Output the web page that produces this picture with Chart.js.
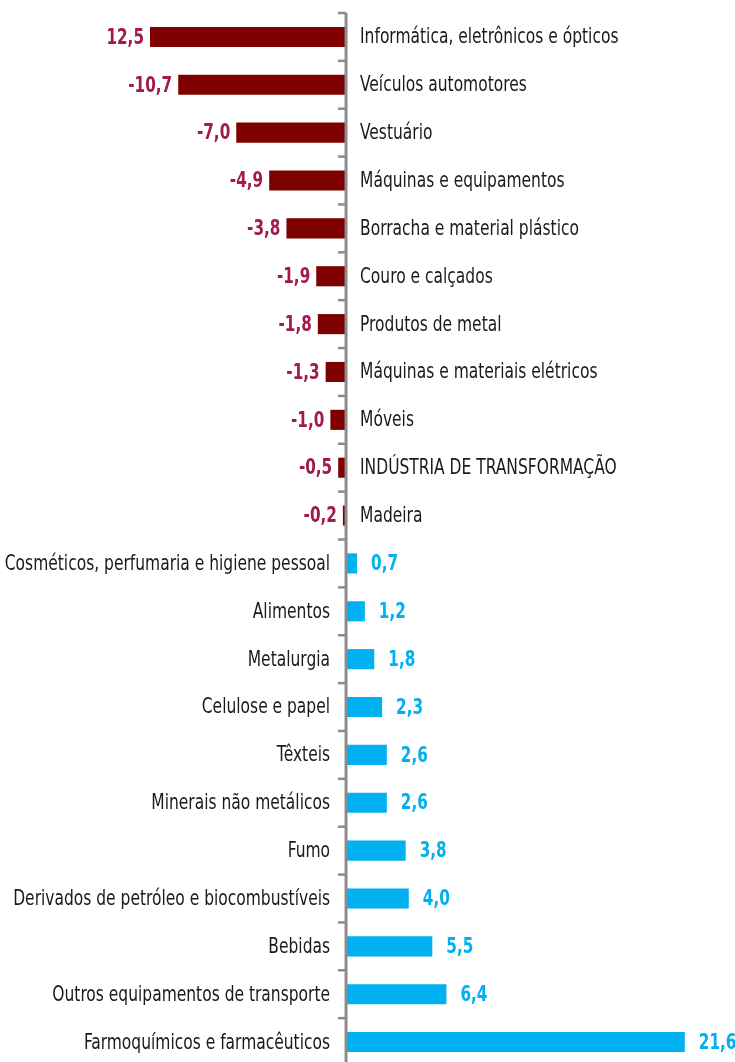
<!DOCTYPE html>
<html>
<head>
<meta charset="utf-8">
<script src="https://cdn.jsdelivr.net/npm/chart.js@4"></script>
<style>
  html, body { margin: 0; padding: 0; background: #fff; overflow: hidden; }
  #wrap { position: relative; width: 735px; height: 1066px; }
</style>
</head>
<body>
<div id="wrap"><canvas id="myChart"></canvas></div>
<script>
const categories = [
  'Informática, eletrônicos e ópticos',
  'Veículos automotores',
  'Vestuário',
  'Máquinas e equipamentos',
  'Borracha e material plástico',
  'Couro e calçados',
  'Produtos de metal',
  'Máquinas e materiais elétricos',
  'Móveis',
  'INDÚSTRIA DE TRANSFORMAÇÃO',
  'Madeira',
  'Cosméticos, perfumaria e higiene pessoal',
  'Alimentos',
  'Metalurgia',
  'Celulose e papel',
  'Têxteis',
  'Minerais não metálicos',
  'Fumo',
  'Derivados de petróleo e biocombustíveis',
  'Bebidas',
  'Outros equipamentos de transporte',
  'Farmoquímicos e farmacêuticos'
];
const values = [-12.5, -10.7, -7.0, -4.9, -3.8, -1.9, -1.8, -1.3, -1.0, -0.5, -0.2,
  0.7, 1.2, 1.8, 2.3, 2.6, 2.6, 3.8, 4.0, 5.5, 6.4, 21.6];
// value labels as printed on the chart (first one has no minus sign)
const valueLabels = ['12,5', '-10,7', '-7,0', '-4,9', '-3,8', '-1,9', '-1,8', '-1,3', '-1,0', '-0,5', '-0,2',
  '0,7', '1,2', '1,8', '2,3', '2,6', '2,6', '3,8', '4,0', '5,5', '6,4', '21,6'];

const negBar = '#7f0000';
const negText = '#a3194b';
const posBar = '#00b0f0';
const txtColor = '#1a1a1a';
const catFont = '21px "DejaVu Sans Condensed", "DejaVu Sans", sans-serif';
const valFont = 'bold 22px "DejaVu Sans Condensed", "DejaVu Sans", sans-serif';

// narrow look: squeeze the text horizontally
function drawText(ctx, text, x, y, align, font, color, sx) {
  ctx.save();
  ctx.translate(x, y);
  ctx.scale(sx, 1);
  ctx.font = font;
  ctx.fillStyle = color;
  ctx.textAlign = align;
  ctx.textBaseline = 'middle';
  ctx.fillText(text, 0, 0);
  ctx.restore();
}

// axis line, tick marks and the labels on both sides of the axis
const sideLabels = {
  id: 'sideLabels',
  afterDatasetsDraw(chart) {
    const ctx = chart.ctx;
    const xs = chart.scales.x, ys = chart.scales.y;
    const zero = xs.getPixelForValue(0);
    const meta = chart.getDatasetMeta(0);
    ctx.save();
    ctx.strokeStyle = '#8c8c8c';
    ctx.lineWidth = 3;
    ctx.beginPath();
    ctx.moveTo(zero, ys.getPixelForValue(-0.5));
    ctx.lineTo(zero, ys.getPixelForValue(categories.length - 0.5));
    ctx.stroke();
    ctx.lineWidth = 2.5;
    for (let i = 0; i <= categories.length; i++) {
      const ty = ys.getPixelForValue(i - 0.5);
      ctx.beginPath();
      ctx.moveTo(zero - 8, ty);
      ctx.lineTo(zero, ty);
      ctx.stroke();
    }
    ctx.restore();
    meta.data.forEach((bar, i) => {
      const cy = bar.y + 1;
      if (values[i] < 0) {
        drawText(ctx, categories[i], zero + 14, cy, 'left', catFont, txtColor, 0.82);
        drawText(ctx, valueLabels[i], bar.x - 6, cy, 'right', valFont, negText, 0.77);
      } else {
        drawText(ctx, categories[i], zero - 16, cy, 'right', catFont, txtColor, 0.82);
        drawText(ctx, valueLabels[i], bar.x + 14, cy, 'left', valFont, posBar, 0.77);
      }
    });
  }
};

const ctx = document.getElementById('myChart');
new Chart(ctx, {
  type: 'bar',
  data: {
    labels: categories,
    datasets: [{
      data: values,
      backgroundColor: values.map(v => v < 0 ? negBar : posBar),
      borderWidth: 0,
      barPercentage: 0.42,
      categoryPercentage: 1
    }]
  },
  options: {
    indexAxis: 'y',
    responsive: true,
    maintainAspectRatio: false,
    animation: false,
    layout: { padding: { top: 13, left: 1, right: 0, bottom: 0 } },
    plugins: { legend: { display: false }, tooltip: { enabled: false } },
    scales: {
      x: { display: false, min: -22, max: 24.8 },
      y: { display: false }
    }
  },
  plugins: [sideLabels]
});
</script>
</body>
</html>
